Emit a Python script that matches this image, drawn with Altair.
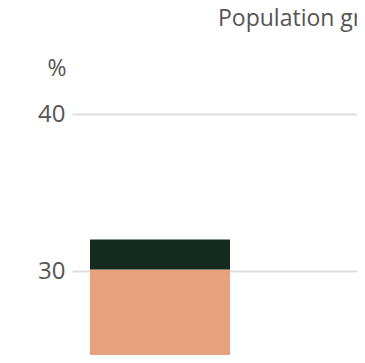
import altair as alt
import pandas as pd

categories = ["A", "A"]
series = ["Part 1", "Part 2"]
values = [30.1, 1.9]
order = [1, 2]
colors = ["#e5a27c", "#132b1f"]
y_ticks = [30, 40]

df = pd.DataFrame({"cat": categories, "series": series, "value": values, "order": order})

chart = alt.Chart(df).mark_bar(clip=True).encode(
    x=alt.X("cat:N", axis=None,
            scale=alt.Scale(paddingInner=0, paddingOuter=1, align=0.0643)),
    y=alt.Y("value:Q", stack="zero",
            scale=alt.Scale(domain=[0, 40]),
            axis=alt.Axis(values=y_ticks, title="%", titleAngle=0, titleAlign="right",
                          titleBaseline="middle", titleX=-6, titleY=-46,
                          titleFontSize=23, titleFontWeight="normal", titleColor="#555555",
                          titleFont="Open Sans",
                          labelFont="Open Sans", labelFontSize=24, labelColor="#555555",
                          labelPadding=7, ticks=False, domain=False,
                          gridColor="#dddddd", gridWidth=2)),
    color=alt.Color("series:N", scale=alt.Scale(domain=series, range=colors), legend=None),
    order=alt.Order("order:Q"),
).properties(
    width=420, height=628,
    autosize=alt.AutoSizeParams(type="none"),
    padding={"left": 64, "top": 106, "right": -135, "bottom": -387},
    title=alt.TitleParams("Population growth", anchor="start", frame="group", dx=146,
                          font="Open Sans", fontSize=23, fontWeight="normal",
                          color="#555555", offset=26),
).configure_view(stroke=None)

chart.save("out.html", embed_options={"renderer": "svg", "actions": False})
